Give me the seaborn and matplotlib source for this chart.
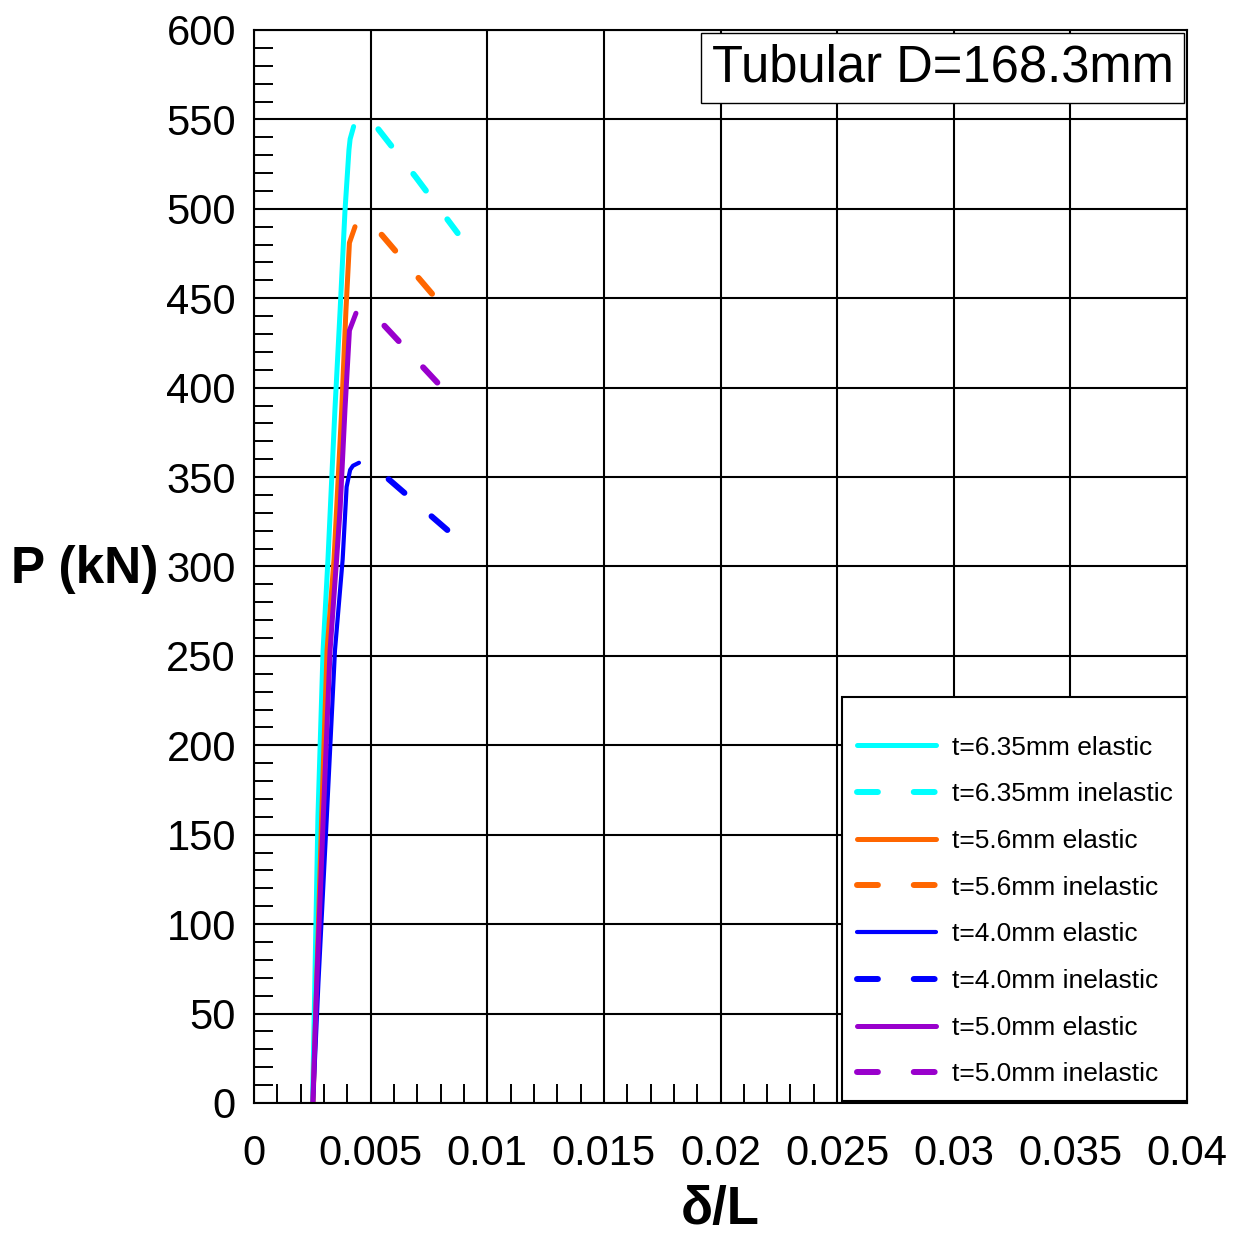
import numpy as np
import pandas as pd
import matplotlib
matplotlib.use("Agg")
import matplotlib.pyplot as plt
from matplotlib.ticker import MultipleLocator, FuncFormatter
from matplotlib.offsetbox import AnchoredText
import seaborn as sns

# ---- data ----
cyan_el_x = [0.00251, 0.00274, 0.00296, 0.00317, 0.00347, 0.00369, 0.00390, 0.00407, 0.00412, 0.00427]
cyan_el_y = [0, 160, 253, 304, 388, 443, 499, 533, 539, 546]
cyan_in_x = [0.00533, 0.00695, 0.00873]
cyan_in_y = [544.5, 517.5, 486.4]

orange_el_x = [0.00253, 0.00290, 0.00313, 0.00343, 0.00354, 0.00376, 0.00394, 0.00409, 0.00433]
orange_el_y = [0, 160, 253, 304, 332, 388, 443, 481, 490]
orange_in_x = [0.00547, 0.00786]
orange_in_y = [485.5, 449.0]

blue_el_x = [0.00253, 0.00276, 0.00312, 0.00347, 0.00380, 0.00397, 0.00412, 0.00424, 0.00450]
blue_el_y = [0, 67, 160, 253, 304, 344.5, 354, 356.3, 358]
blue_in_x = [0.00577, 0.00850]
blue_in_y = [348.8, 318.0]

purple_el_x = [0.00252, 0.00269, 0.00297, 0.00326, 0.00354, 0.00369, 0.00390, 0.00409, 0.00437]
purple_el_y = [0, 67, 160, 253, 304, 332, 388, 432, 441.6]
purple_in_x = [0.00559, 0.00809]
purple_in_y = [434.6, 399.6]

series = [
    ("t=6.35mm elastic", cyan_el_x, cyan_el_y, "#00FFFF", False, 3.6),
    ("t=6.35mm inelastic", cyan_in_x, cyan_in_y, "#00FFFF", True, 4.3),
    ("t=5.6mm elastic", orange_el_x, orange_el_y, "#FF6600", False, 3.6),
    ("t=5.6mm inelastic", orange_in_x, orange_in_y, "#FF6600", True, 4.3),
    ("t=4.0mm elastic", blue_el_x, blue_el_y, "#0000FF", False, 3.0),
    ("t=4.0mm inelastic", blue_in_x, blue_in_y, "#0000FF", True, 4.3),
    ("t=5.0mm elastic", purple_el_x, purple_el_y, "#9900CC", False, 3.6),
    ("t=5.0mm inelastic", purple_in_x, purple_in_y, "#9900CC", True, 4.3),
]

sns.set_style("white")
plt.rcParams['font.family'] = ['Liberation Sans', 'DejaVu Sans']
plt.rcParams['text.color'] = 'black'
plt.rcParams['axes.labelcolor'] = 'black'
plt.rcParams['xtick.color'] = 'black'
plt.rcParams['ytick.color'] = 'black'

fig = plt.figure(figsize=(12.44, 12.34), dpi=100)
ax = fig.add_axes([0.2042, 0.1062, 0.7500, 0.8695])

handles = []
for label, xs, ys, col, dashed, lw in series:
    df = pd.DataFrame({"x": xs, "y": ys})
    sns.lineplot(data=df, x="x", y="y", ax=ax, color=col, linewidth=lw,
                 sort=False, estimator=None, legend=False)
    ln = ax.lines[-1]
    ln.set_label(label)
    ln.set_solid_capstyle('round')
    if dashed:
        ln.set_dashes([3.5, 6])
        ln.set_dash_capstyle('round')
    handles.append(ln)

ax.set_xlim(0, 0.04)
ax.set_ylim(0, 600)
ax.xaxis.set_major_locator(MultipleLocator(0.005))
ax.xaxis.set_minor_locator(MultipleLocator(0.001))
ax.yaxis.set_major_locator(MultipleLocator(50))
ax.yaxis.set_minor_locator(MultipleLocator(10))
ax.xaxis.set_major_formatter(FuncFormatter(lambda v, p: "{:g}".format(round(v, 6))))
ax.yaxis.set_major_formatter(FuncFormatter(lambda v, p: "{:g}".format(round(v, 6))))

ax.grid(True, which='major', color='black', linewidth=1.5)
ax.set_axisbelow(True)
ax.tick_params(which='major', length=0, labelsize=30, pad=13, colors='black')
ax.tick_params(axis='x', which='major', pad=22)
ax.tick_params(which='minor', direction='in', length=14, width=1.4, color='black',
               bottom=True, left=True, top=False, right=False)
for s in ax.spines.values():
    s.set_color('black')
    s.set_linewidth(1.5)

ax.set_ylabel("P (kN)", fontsize=37, fontweight='bold', rotation=0, ha='center', va='center')
ax.yaxis.set_label_coords(-0.182, 0.497)
ax.set_xlabel("δ/L", fontsize=38, fontweight='bold', va='center')
ax.xaxis.set_label_coords(0.5, -0.1)

at = AnchoredText("Tubular D=168.3mm", loc='upper right', prop=dict(size=36.5),
                  frameon=True, borderpad=0.05, pad=0.21)
at.patch.set_boxstyle("square,pad=0")
at.patch.set_edgecolor('black')
at.patch.set_linewidth(1.0)
ax.add_artist(at)

leg = ax.legend(handles=handles, loc='lower right', bbox_to_anchor=(1.0, 2.0 / 1073),
                borderaxespad=0.0, fontsize=19, handlelength=3.0, handletextpad=0.6,
                labelspacing=0.86, borderpad=0.55, fancybox=False, framealpha=1,
                edgecolor='black', title=' ', title_fontsize=1)
leg.get_frame().set_linewidth(1.5)

fig.savefig("out.png", dpi=100)
